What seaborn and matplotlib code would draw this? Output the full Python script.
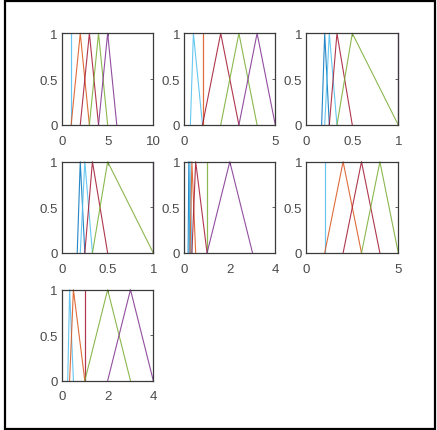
import pandas as pd
import matplotlib.pyplot as plt
import seaborn as sns
from matplotlib.patches import Rectangle

sns.set_style("white")
plt.rcParams['font.family'] = ['Liberation Sans', 'DejaVu Sans']

# matlab default colours
blue = '#0072BD'
orange = '#D95319'
purple = '#7E2F8E'
green = '#77AC30'
cyan = '#4DBEEE'
red = '#A2142F'

# triangular membership functions (left, peak, right) per subplot
mf1 = [(1, 1, 1), (1, 2, 3), (2, 3, 4), (3, 4, 5), (4, 5, 6)]
col1 = [cyan, orange, red, green, purple]

mf2 = [(1/3, 1/2, 1), (1, 1, 1), (1, 2, 3), (2, 3, 4), (3, 4, 5)]
col2 = [cyan, orange, red, green, purple]

mf3 = [(1/6, 1/5, 1/4), (1/5, 1/4, 1/3), (1/4, 1/3, 1/2), (1/3, 1/2, 1), (1, 1, 1)]
col3 = [blue, cyan, red, green, purple]

mf4 = [(1/6, 1/5, 1/4), (1/5, 1/4, 1/3), (1/4, 1/3, 1/2), (1/3, 1/2, 1), (1, 1, 1)]
col4 = [blue, cyan, red, green, purple]

mf5 = [(1/6, 1/5, 1/4), (1/5, 1/4, 1/3), (1/4, 1/3, 1/2), (1/3, 1/2, 1), (1, 1, 1), (1, 2, 3)]
col5 = [blue, cyan, orange, red, green, purple]

mf6 = [(1, 1, 1), (1, 2, 3), (2, 3, 4), (3, 4, 5)]
col6 = [cyan, orange, red, green]

mf7 = [(1/4, 1/3, 1/2), (1/3, 1/2, 1), (1, 1, 1), (1, 2, 3), (2, 3, 4)]
col7 = [cyan, orange, red, green, purple]

xlims = [10, 5, 1, 1, 4, 5, 4]
xticks = [[0, 5, 10], [0, 5], [0, 0.5, 1], [0, 0.5, 1], [0, 2, 4], [0, 5], [0, 2, 4]]
xticklabels = [['0', '5', '10'], ['0', '5'], ['0', '0.5', '1'], ['0', '0.5', '1'],
               ['0', '2', '4'], ['0', '5'], ['0', '2', '4']]
yticks = [0, 0.5, 1]
yticklabels = ['0', '0.5', '1']

panels = [(mf1, col1), (mf2, col2), (mf3, col3), (mf4, col4),
          (mf5, col5), (mf6, col6), (mf7, col7)]

W, H = 437, 431
fig = plt.figure(figsize=(W / 100, H / 100), dpi=100)

# axes boxes in pixels (left, top, right, bottom)
colx = [(62, 153.3), (184.3, 275.3), (306.3, 398.3)]
rowy = [(34.3, 126), (162.7, 254), (290.7, 381.7)]

for i, (mfs, cols) in enumerate(panels):
    r, c = divmod(i, 3)
    x0, x1 = colx[c]
    y0, y1 = rowy[r]
    ax = fig.add_axes([x0 / W, 1 - y1 / H, (x1 - x0) / W, (y1 - y0) / H])

    rows = []
    for k, (a, b, cc) in enumerate(mfs):
        rows.append({'x': a, 'y': 0, 'mf': k})
        rows.append({'x': b, 'y': 1, 'mf': k})
        rows.append({'x': cc, 'y': 0, 'mf': k})
    df = pd.DataFrame(rows)

    sns.lineplot(data=df, x='x', y='y', hue='mf', palette=cols, estimator=None,
                 sort=False, legend=False, linewidth=0.8, alpha=0.85, ax=ax,
                 clip_on=False)

    ax.set_xlim(0, xlims[i])
    ax.set_ylim(0, 1)
    ax.set_xticks(xticks[i])
    ax.set_xticklabels(xticklabels[i])
    ax.set_yticks(yticks)
    ax.set_yticklabels(yticklabels)
    ax.set_xlabel('')
    ax.set_ylabel('')
    ax.tick_params(direction='in', length=2, width=0.6, colors='#4a4a4a',
                   labelsize=9.5, labelcolor='#4a4a4a', top=True, right=True)
    ax.tick_params(axis='x', pad=7)
    ax.tick_params(axis='y', pad=3)
    for s in ax.spines.values():
        s.set_visible(True)
        s.set_color('#3a3a3a')
        s.set_linewidth(0.9)

# black frame around the whole picture
fig.patches.append(Rectangle((4.5 / W, 1.5 / H), 430.5 / W, 427.5 / H,
                             transform=fig.transFigure, fill=False,
                             edgecolor='black', linewidth=1.6))

fig.savefig('out.png', dpi=100)
